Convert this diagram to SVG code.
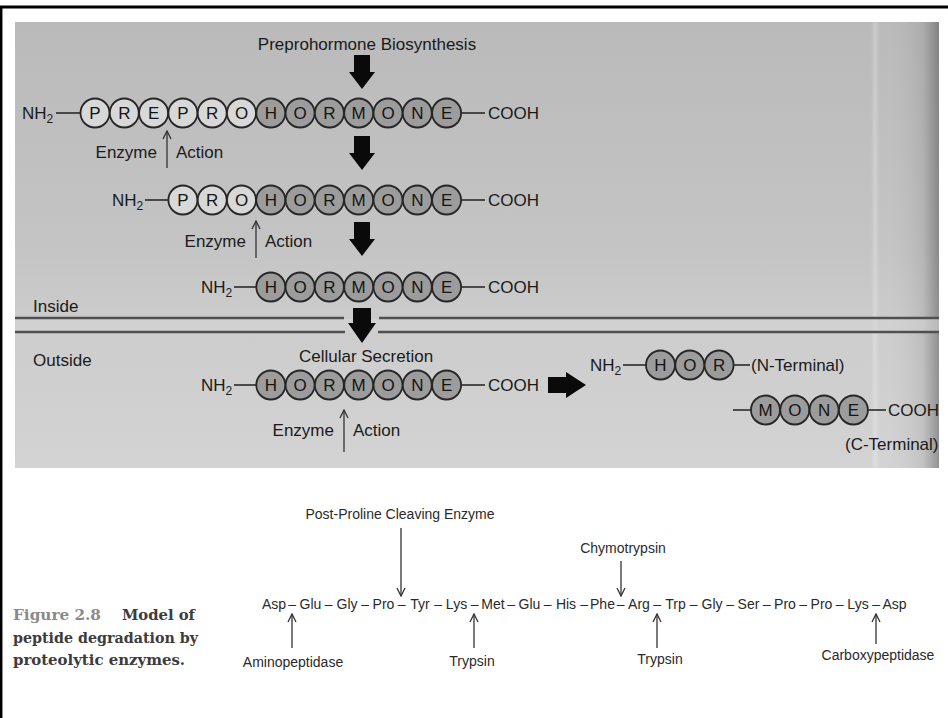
<svg xmlns="http://www.w3.org/2000/svg" width="948" height="718" viewBox="0 0 948 718">
<defs>
<linearGradient id="bgV" x1="0" y1="0" x2="0" y2="1">
<stop offset="0" stop-color="#bababa"/>
<stop offset="0.5" stop-color="#c4c4c4"/>
<stop offset="0.7" stop-color="#cdcdcd"/>
<stop offset="1" stop-color="#d3d3d3"/>
</linearGradient>
<linearGradient id="edge" x1="0" y1="0" x2="1" y2="0">
<stop offset="0" stop-color="#000" stop-opacity="0"/>
<stop offset="0.14" stop-color="#fff" stop-opacity="0"/>
<stop offset="0.19" stop-color="#fff" stop-opacity="0.25"/>
<stop offset="0.25" stop-color="#fff" stop-opacity="0"/>
<stop offset="0.8" stop-color="#000" stop-opacity="0.08"/>
<stop offset="1" stop-color="#000" stop-opacity="0.3"/>
</linearGradient>
<marker id="v" viewBox="0 0 10 10" refX="9" refY="5" markerWidth="10" markerHeight="10" orient="auto" markerUnits="userSpaceOnUse">
<path d="M1,1 L9,5 L1,9" fill="none" stroke="#333" stroke-width="1.3"/>
</marker>
<style>
.t{font-family:"Liberation Sans",Arial,sans-serif;font-size:17px;fill:#1a1a1a}
.b{font-family:"Liberation Sans",Arial,sans-serif;font-size:14px;fill:#2a2a2a}
.cap{font-family:"DejaVu Serif","Liberation Serif",serif;font-weight:bold;font-size:15px;fill:#3c3c3c}
.cl{font-family:"Liberation Sans",Arial,sans-serif;font-size:17px;fill:#151515;text-anchor:middle}
.w{fill:#d8d8d8;stroke:#262626;stroke-width:1.8}
.g{fill:#9c9c9c;stroke:#262626;stroke-width:1.8}
.dash{stroke:#2a2a2a;stroke-width:1.6}
.big{fill:#0a0a0a}
.thin{stroke:#333;stroke-width:1.3;fill:none;marker-end:url(#v)}
.mem{stroke:#505050;stroke-width:2.4}
</style>
</defs>
<rect x="0" y="0" width="948" height="718" fill="#ffffff"/>
<g id="frame">
<line x1="0" y1="7" x2="948" y2="7" stroke="#000" stroke-width="3"/>
<line x1="1.2" y1="6" x2="1.2" y2="718" stroke="#000" stroke-width="2.5"/>
</g>
<g id="panel">
<rect x="15" y="22" width="924" height="446" fill="url(#bgV)"/>
<rect x="860" y="22" width="79" height="446" fill="url(#edge)"/>
<rect x="15" y="319" width="924" height="12" fill="#d4d4d4" opacity="0.6"/>
</g>
<g id="membrane">
<line class="mem" x1="15" y1="318" x2="344" y2="318"/>
<line class="mem" x1="379" y1="318" x2="939" y2="318"/>
<line class="mem" x1="15" y1="332" x2="345" y2="332"/>
<line class="mem" x1="378" y1="332" x2="939" y2="332"/>
</g>
<g id="labels">
<text class="t" x="367" y="50" text-anchor="middle">Preprohormone Biosynthesis</text>
<text class="t" x="33" y="312">Inside</text>
<text class="t" x="33" y="366">Outside</text>
<text class="t" x="366" y="362" text-anchor="middle">Cellular Secretion</text>
</g>
<g id="preprohormone">
<text class="t" x="22" y="119">NH<tspan font-size="12" dy="4">2</tspan></text>
<line class="dash" x1="56" y1="113" x2="80" y2="113"/>
<circle class="w" cx="95" cy="113" r="14.5"/><circle class="w" cx="124.3" cy="113" r="14.5"/><circle class="w" cx="153.6" cy="113" r="14.5"/><circle class="w" cx="182.9" cy="113" r="14.5"/><circle class="w" cx="212.2" cy="113" r="14.5"/><circle class="w" cx="241.5" cy="113" r="14.5"/>
<circle class="g" cx="270.8" cy="113" r="14.5"/><circle class="g" cx="300.1" cy="113" r="14.5"/><circle class="g" cx="329.4" cy="113" r="14.5"/><circle class="g" cx="358.7" cy="113" r="14.5"/><circle class="g" cx="388" cy="113" r="14.5"/><circle class="g" cx="417.3" cy="113" r="14.5"/><circle class="g" cx="446.6" cy="113" r="14.5"/>
<text class="cl" y="119"><tspan x="95">P</tspan><tspan x="124.3">R</tspan><tspan x="153.6">E</tspan><tspan x="182.9">P</tspan><tspan x="212.2">R</tspan><tspan x="241.5">O</tspan><tspan x="270.8">H</tspan><tspan x="300.1">O</tspan><tspan x="329.4">R</tspan><tspan x="358.7">M</tspan><tspan x="388">O</tspan><tspan x="417.3">N</tspan><tspan x="446.6">E</tspan></text>
<line class="dash" x1="461" y1="113" x2="485" y2="113"/>
<text class="t" x="488" y="119">COOH</text>
</g>
<g id="prohormone">
<text class="t" x="112" y="206">NH<tspan font-size="12" dy="4">2</tspan></text>
<line class="dash" x1="145" y1="200" x2="168" y2="200"/>
<circle class="w" cx="182.9" cy="200" r="14.5"/><circle class="w" cx="212.2" cy="200" r="14.5"/><circle class="w" cx="241.5" cy="200" r="14.5"/>
<circle class="g" cx="270.8" cy="200" r="14.5"/><circle class="g" cx="300.1" cy="200" r="14.5"/><circle class="g" cx="329.4" cy="200" r="14.5"/><circle class="g" cx="358.7" cy="200" r="14.5"/><circle class="g" cx="388" cy="200" r="14.5"/><circle class="g" cx="417.3" cy="200" r="14.5"/><circle class="g" cx="446.6" cy="200" r="14.5"/>
<text class="cl" y="206"><tspan x="182.9">P</tspan><tspan x="212.2">R</tspan><tspan x="241.5">O</tspan><tspan x="270.8">H</tspan><tspan x="300.1">O</tspan><tspan x="329.4">R</tspan><tspan x="358.7">M</tspan><tspan x="388">O</tspan><tspan x="417.3">N</tspan><tspan x="446.6">E</tspan></text>
<line class="dash" x1="461" y1="200" x2="485" y2="200"/>
<text class="t" x="488" y="206">COOH</text>
</g>
<g id="hormone-inside">
<text class="t" x="201" y="293">NH<tspan font-size="12" dy="4">2</tspan></text>
<line class="dash" x1="234" y1="287" x2="256" y2="287"/>
<circle class="g" cx="270.8" cy="287" r="14.5"/><circle class="g" cx="300.1" cy="287" r="14.5"/><circle class="g" cx="329.4" cy="287" r="14.5"/><circle class="g" cx="358.7" cy="287" r="14.5"/><circle class="g" cx="388" cy="287" r="14.5"/><circle class="g" cx="417.3" cy="287" r="14.5"/><circle class="g" cx="446.6" cy="287" r="14.5"/>
<text class="cl" y="293"><tspan x="270.8">H</tspan><tspan x="300.1">O</tspan><tspan x="329.4">R</tspan><tspan x="358.7">M</tspan><tspan x="388">O</tspan><tspan x="417.3">N</tspan><tspan x="446.6">E</tspan></text>
<line class="dash" x1="461" y1="287" x2="485" y2="287"/>
<text class="t" x="488" y="293">COOH</text>
</g>
<g id="hormone-outside">
<text class="t" x="201" y="391">NH<tspan font-size="12" dy="4">2</tspan></text>
<line class="dash" x1="234" y1="385" x2="256" y2="385"/>
<circle class="g" cx="270.8" cy="385" r="14.5"/><circle class="g" cx="300.1" cy="385" r="14.5"/><circle class="g" cx="329.4" cy="385" r="14.5"/><circle class="g" cx="358.7" cy="385" r="14.5"/><circle class="g" cx="388" cy="385" r="14.5"/><circle class="g" cx="417.3" cy="385" r="14.5"/><circle class="g" cx="446.6" cy="385" r="14.5"/>
<text class="cl" y="391"><tspan x="270.8">H</tspan><tspan x="300.1">O</tspan><tspan x="329.4">R</tspan><tspan x="358.7">M</tspan><tspan x="388">O</tspan><tspan x="417.3">N</tspan><tspan x="446.6">E</tspan></text>
<line class="dash" x1="461" y1="385" x2="485" y2="385"/>
<text class="t" x="488" y="391">COOH</text>
</g>
<g id="n-terminal">
<text class="t" x="590" y="371">NH<tspan font-size="12" dy="4">2</tspan></text>
<line class="dash" x1="623" y1="365" x2="646" y2="365"/>
<circle class="g" cx="660.5" cy="365" r="14.5"/><circle class="g" cx="689.8" cy="365" r="14.5"/><circle class="g" cx="719.1" cy="365" r="14.5"/>
<text class="cl" y="371"><tspan x="660.5">H</tspan><tspan x="689.8">O</tspan><tspan x="719.1">R</tspan></text>
<line class="dash" x1="733.5" y1="365" x2="750" y2="365"/>
<text class="t" x="751" y="371" font-size="16">(N-Terminal)</text>
</g>
<g id="c-terminal">
<line class="dash" x1="733" y1="410" x2="751" y2="410"/>
<circle class="g" cx="765.5" cy="410" r="14.5"/><circle class="g" cx="794.8" cy="410" r="14.5"/><circle class="g" cx="824.1" cy="410" r="14.5"/><circle class="g" cx="853.4" cy="410" r="14.5"/>
<text class="cl" y="416"><tspan x="765.5">M</tspan><tspan x="794.8">O</tspan><tspan x="824.1">N</tspan><tspan x="853.4">E</tspan></text>
<line class="dash" x1="868" y1="410" x2="886" y2="410"/>
<text class="t" x="888" y="416" font-size="16">COOH</text>
<text class="t" x="845" y="450" font-size="16">(C-Terminal)</text>
</g>
<g id="enzyme-labels">
<text class="t" x="157" y="158" text-anchor="end">Enzyme</text>
<text class="t" x="176" y="158">Action</text>
<text class="t" x="246" y="247" text-anchor="end">Enzyme</text>
<text class="t" x="265" y="247">Action</text>
<text class="t" x="334" y="436" text-anchor="end">Enzyme</text>
<text class="t" x="353" y="436">Action</text>
</g>
<g id="peptide">
<text class="b" x="400" y="519" text-anchor="middle">Post-Proline Cleaving Enzyme</text>
<text class="b" x="623" y="553" text-anchor="middle">Chymotrypsin</text>
<text class="b" y="609" text-anchor="middle"><tspan x="274">Asp</tspan><tspan x="292.25">–</tspan><tspan x="310.5">Glu</tspan><tspan x="328.75">–</tspan><tspan x="347">Gly</tspan><tspan x="365.25">–</tspan><tspan x="383.5">Pro</tspan><tspan x="401.75">–</tspan><tspan x="420">Tyr</tspan><tspan x="438.25">–</tspan><tspan x="456.5">Lys</tspan><tspan x="474.75">–</tspan><tspan x="493">Met</tspan><tspan x="511.25">–</tspan><tspan x="529.5">Glu</tspan><tspan x="547.75">–</tspan><tspan x="566">His</tspan><tspan x="584.25">–</tspan><tspan x="602.5">Phe</tspan><tspan x="620.75">–</tspan><tspan x="639">Arg</tspan><tspan x="657.25">–</tspan><tspan x="675.5">Trp</tspan><tspan x="693.75">–</tspan><tspan x="712">Gly</tspan><tspan x="730.25">–</tspan><tspan x="748.5">Ser</tspan><tspan x="766.75">–</tspan><tspan x="785">Pro</tspan><tspan x="803.25">–</tspan><tspan x="821.5">Pro</tspan><tspan x="839.75">–</tspan><tspan x="858">Lys</tspan><tspan x="876.25">–</tspan><tspan x="894.5">Asp</tspan></text>
<text class="b" x="293" y="667" text-anchor="middle">Aminopeptidase</text>
<text class="b" x="472" y="666" text-anchor="middle">Trypsin</text>
<text class="b" x="660" y="664" text-anchor="middle">Trypsin</text>
<text class="b" x="878" y="660" text-anchor="middle">Carboxypeptidase</text>
</g>
<g id="caption">
<text class="cap" x="13" y="620" fill="#8a8a8a" style="fill:#8a8a8a" textLength="88" lengthAdjust="spacingAndGlyphs">Figure 2.8</text>
<text class="cap" x="122" y="620" textLength="73" lengthAdjust="spacingAndGlyphs">Model of</text>
<text class="cap" x="13" y="643" textLength="185" lengthAdjust="spacingAndGlyphs">peptide degradation by</text>
<text class="cap" x="13" y="665" textLength="172" lengthAdjust="spacingAndGlyphs">proteolytic enzymes.</text>
</g>
<g id="connectors">
<polygon class="big" points="354,55 370,55 370,72 375,72 362,89 349,72 354,72"/>
<polygon class="big" points="354,136 370,136 370,153 375,153 362,170 349,153 354,153"/>
<polygon class="big" points="354,222 370,222 370,239 375,239 362,256 349,239 354,239"/>
<polygon class="big" points="353,308 371,308 371,323 376,323 362,343 348,323 353,323"/>
<polygon class="big" points="548,377 566,377 566,372 586,385 566,398 566,393 548,393"/>
<line class="thin" x1="167" y1="168" x2="167" y2="131"/>
<line class="thin" x1="256" y1="258" x2="256" y2="221"/>
<line class="thin" x1="344" y1="452" x2="344" y2="410"/>
<line class="thin" x1="401" y1="528" x2="401" y2="596"/>
<line class="thin" x1="621" y1="561" x2="621" y2="596"/>
<line class="thin" x1="292" y1="648" x2="292" y2="614"/>
<line class="thin" x1="474" y1="648" x2="474" y2="614"/>
<line class="thin" x1="657" y1="648" x2="657" y2="614"/>
<line class="thin" x1="876" y1="644" x2="876" y2="614"/>
</g>
</svg>
